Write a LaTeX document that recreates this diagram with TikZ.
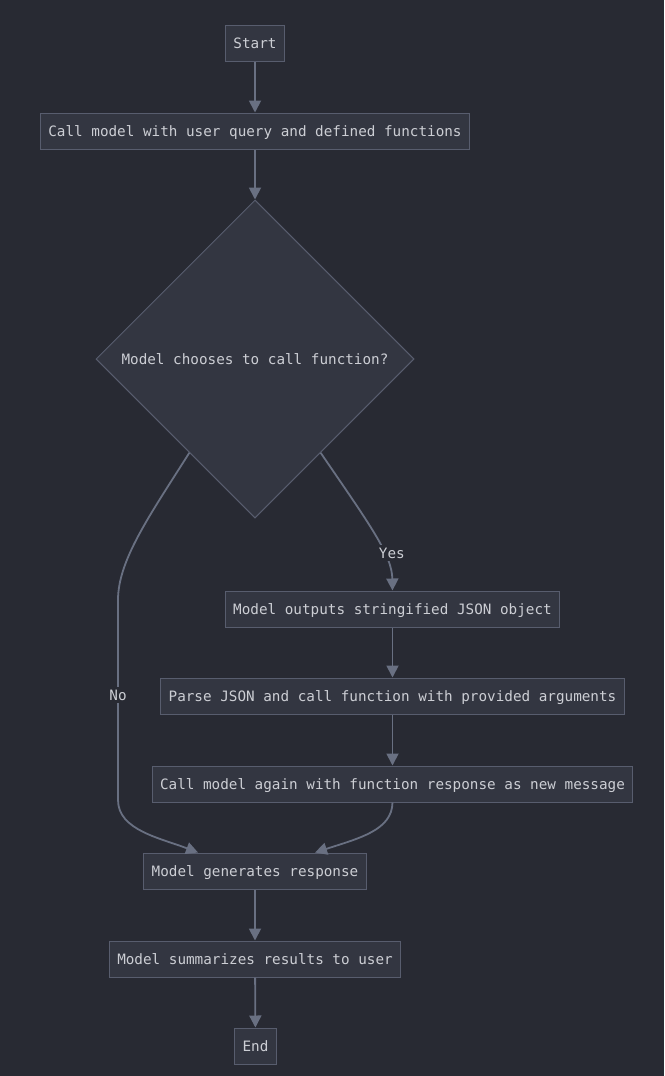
\documentclass[tikz,border=0pt]{standalone}
\usepackage{fontspec}
\setmainfont{DejaVu Sans Mono}
\usetikzlibrary{shapes.geometric,arrows.meta}

\definecolor{bgcol}{RGB}{40,42,51}
\definecolor{boxfill}{RGB}{51,54,65}
\definecolor{boxline}{RGB}{88,93,110}
\definecolor{linkcol}{RGB}{105,112,130}
\definecolor{txtcol}{RGB}{204,206,212}

\begin{document}
\begin{tikzpicture}[x=1pt,y=-1pt,
  box/.style={draw=boxline, fill=boxfill, text=txtcol, line width=1pt,
    minimum height=36pt, inner xsep=8pt, inner ysep=0pt,
    text height=12pt, text depth=1.6pt,
    font=\fontsize{14.3}{17}\selectfont},
  link/.style={draw=linkcol, line width=1.8pt, -{Triangle[length=12pt,width=12pt]}},
  tag/.style={fill=bgcol, text=txtcol, inner sep=1pt, text height=12pt, text depth=1.6pt,
    font=\fontsize{14.3}{17}\selectfont}]

\fill[bgcol] (0,0) rectangle (664,1076);
\useasboundingbox (0,0) rectangle (664,1076);

% nodes
\node[box] (start) at (255,43) {Start};
\node[box] (call) at (255,131) {Call model with user query and defined functions};
\node[box, diamond, minimum width=318pt, minimum height=318pt, inner sep=0pt] (choose) at (255,359) {Model chooses to call function?};
\node[box] (json) at (392.5,609) {Model outputs stringified JSON object};
\node[box] (parse) at (392.5,696) {Parse JSON and call function with provided arguments};
\node[box] (again) at (392.5,784) {Call model again with function response as new message};
\node[box] (gen) at (255,871) {Model generates response};
\node[box] (summ) at (255,959) {Model summarizes results to user};
\node[box] (stop) at (255.5,1046) {End};

% links
\draw[link] (choose.-55) .. controls (370,525) and (392,555) .. (json.north) node[pos=0.65, xshift=8pt, tag] {Yes};
\draw[link] (choose.-125) .. controls (150,515) and (118,560) .. (118,600) -- (118,800) node[pos=0.475, tag] {No}
  .. controls (118,830) and (160,838) .. ([xshift=-57pt]gen.north);
\draw[link] (start) -- (call);
\draw[link] (call) -- (choose);
\draw[link] (json) -- (parse);
\draw[link] (parse) -- (again);
\draw[link] (again.south) .. controls (392,830) and (360,838) .. ([xshift=60pt]gen.north);
\draw[link] (gen) -- (summ);
\draw[link] (summ) -- (stop);
\end{tikzpicture}
\end{document}
